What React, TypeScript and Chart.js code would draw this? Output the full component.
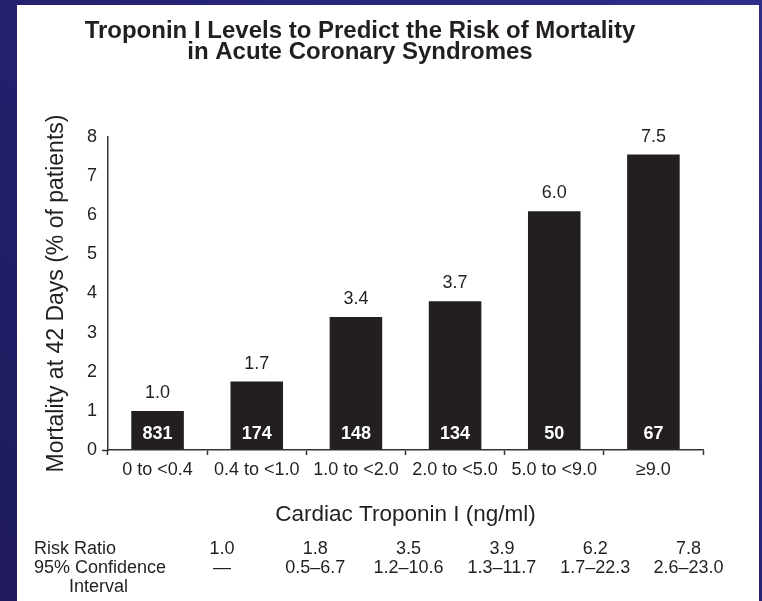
import { useEffect, useRef } from 'react';
import { Chart, registerables } from 'chart.js';

Chart.register(...registerables);

const categories = ['0 to <0.4', '0.4 to <1.0', '1.0 to <2.0', '2.0 to <5.0', '5.0 to <9.0', '≥9.0'];
const mortality = [1.0, 1.75, 3.4, 3.8, 6.1, 7.55];
const mortalityLabels = ['1.0', '1.7', '3.4', '3.7', '6.0', '7.5'];
const patients = ['831', '174', '148', '134', '50', '67'];
const riskRatios = ['1.0', '1.8', '3.5', '3.9', '6.2', '7.8'];
const confidence = ['—', '0.5–6.7', '1.2–10.6', '1.3–11.7', '1.7–22.3', '2.6–23.0'];
const rowLabels = ['Risk Ratio', '95% Confidence', 'Interval'];
const titleLines = ['Troponin I Levels to Predict the Risk of Mortality', 'in Acute Coronary Syndromes'];
const yTitle = 'Mortality at 42 Days (% of patients)';
const xTitle = 'Cardiac Troponin I (ng/ml)';

const FONT = "'Liberation Sans', Arial, sans-serif";
const INK = '#231f20';

const framePlugin = {
  id: 'frame',
  beforeDraw(chart: any) {
    const { ctx, width, height } = chart;
    ctx.save();
    const g = ctx.createLinearGradient(width, 0, 0, height);
    g.addColorStop(0, '#2e2d8a');
    g.addColorStop(1, '#1e1a5c');
    ctx.fillStyle = g;
    ctx.fillRect(0, 0, width, height);
    ctx.fillStyle = '#ffffff';
    ctx.fillRect(17, 5, 742, height - 5);
    ctx.restore();
  },
};

const annotatePlugin = {
  id: 'annotate',
  afterDraw(chart: any) {
    const { ctx } = chart;
    ctx.save();
    // title
    ctx.fillStyle = INK;
    ctx.textAlign = 'center';
    ctx.textBaseline = 'alphabetic';
    ctx.font = `bold 24px ${FONT}`;
    ctx.fillText(titleLines[0], 360, 38);
    ctx.fillText(titleLines[1], 360, 59);

    // bar labels
    const meta = chart.getDatasetMeta(0);
    meta.data.forEach((bar: any, i: number) => {
      ctx.fillStyle = INK;
      ctx.font = `18px ${FONT}`;
      ctx.textBaseline = 'middle';
      ctx.textAlign = 'center';
      ctx.fillText(mortalityLabels[i], bar.x, bar.y - 18);
      ctx.fillStyle = '#ffffff';
      ctx.font = `bold 18px ${FONT}`;
      ctx.fillText(patients[i], bar.x, bar.base - 15);
    });

    // table
    ctx.fillStyle = INK;
    ctx.font = `18px ${FONT}`;
    ctx.textBaseline = 'alphabetic';
    ctx.textAlign = 'left';
    ctx.fillText(rowLabels[0], 34, 554);
    ctx.fillText(rowLabels[1], 34, 573);
    ctx.fillText(rowLabels[2], 69, 592);
    ctx.textAlign = 'center';
    const colStart = 222;
    const colStep = 93.3;
    riskRatios.forEach((r, i) => {
      ctx.fillText(r, colStart + colStep * i, 554);
      ctx.fillText(confidence[i], colStart + colStep * i, 573);
    });
    ctx.restore();
  },
};

export default function App() {
  const ref = useRef<HTMLCanvasElement | null>(null);
  useEffect(() => {
    if (!ref.current) return;
    const chart = new Chart(ref.current, {
      type: 'bar',
      data: {
        labels: categories,
        datasets: [
          {
            data: mortality,
            backgroundColor: INK,
            borderWidth: 0,
            barPercentage: 0.53,
            categoryPercentage: 1,
          },
        ],
      },
      options: {
        responsive: false,
        animation: false,
        devicePixelRatio: 1,
        layout: { padding: { left: 17, top: 137, right: 59, bottom: 0 } },
        plugins: {
          legend: { display: false },
          tooltip: { enabled: false },
          title: { display: false },
        },
        scales: {
          x: {
            offset: true,
            grid: {
              display: true,
              drawOnChartArea: false,
              offset: true,
              tickLength: 5,
              tickColor: '#333',
              tickWidth: 1.5,
            },
            border: { display: true, color: '#333', width: 1.5 },
            ticks: {
              color: INK,
              font: { family: FONT, size: 18 },
              padding: 4,
              maxRotation: 0,
              autoSkip: false,
            },
            title: {
              display: true,
              text: xTitle,
              color: INK,
              font: { family: FONT, size: 22.5 },
              padding: { top: 0, bottom: 73 },
            },
            afterFit: (s: any) => {
              s.height = 151;
            },
          },
          y: {
            min: 0,
            max: 8,
            grid: {
              display: true,
              drawOnChartArea: false,
              tickLength: 6,
              tickWidth: 1.5,
              tickColor: (c: any) => (c.tick && c.tick.value === 0 ? '#333' : 'rgba(0,0,0,0)'),
            },
            border: { display: true, color: '#333', width: 1.5 },
            ticks: {
              stepSize: 1,
              color: INK,
              font: { family: FONT, size: 18 },
              padding: 5,
            },
            title: {
              display: true,
              text: yTitle,
              color: INK,
              font: { family: FONT, size: 23 },
              padding: { top: 26, bottom: 0 },
            },
            afterFit: (s: any) => {
              s.width = 91;
            },
          },
        },
      },
      plugins: [framePlugin, annotatePlugin],
    });
    return () => chart.destroy();
  }, []);
  return (
    <div style={{ position: 'absolute', left: 0, top: 0, width: 762, height: 601 }}>
      <canvas ref={ref} width={762} height={601} style={{ display: 'block' }} />
    </div>
  );
}
